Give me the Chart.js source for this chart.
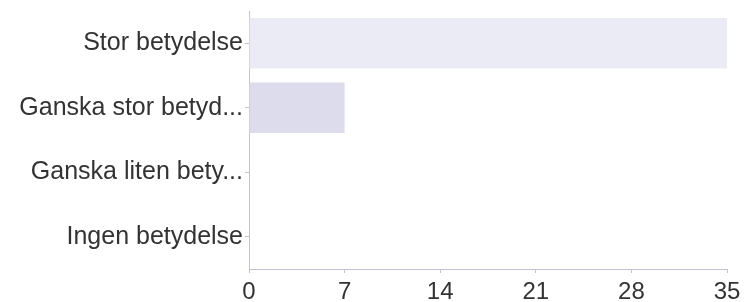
<!DOCTYPE html>
<html lang="sv">
<head>
<meta charset="UTF-8">
<title>Betydelse</title>
<script src="https://cdn.jsdelivr.net/npm/chart.js@4.4.0/dist/chart.umd.min.js"></script>
<style>
  html, body { margin: 0; padding: 0; background: #fff; }
  #wrap { width: 744px; height: 302px; }
</style>
</head>
<body>
<div id="wrap"><canvas id="chart" width="744" height="302"></canvas></div>
<script>
// Svarsalternativ och antal svar
const categories = ['Stor betydelse', 'Ganska stor betyd...', 'Ganska liten bety...', 'Ingen betydelse'];
const counts = [35, 7, 0, 0];
const xTicks = [0, 7, 14, 21, 28, 35];

const barColors = ['#ebebf5', '#dcdced', '#dcdced', '#dcdced'];
const axisColor = '#c0c2d6';
const textColor = '#333333';

new Chart(document.getElementById('chart'), {
  type: 'bar',
  data: {
    labels: categories,
    datasets: [{
      data: counts,
      backgroundColor: barColors,
      borderWidth: 0,
      barPercentage: 0.9,
      categoryPercentage: 0.87
    }]
  },
  options: {
    indexAxis: 'y',
    responsive: false,
    animation: false,
    layout: { padding: { top: 11, right: 17, left: 0, bottom: 0 } },
    plugins: { legend: { display: false }, tooltip: { enabled: false } },
    scales: {
      x: {
        min: 0,
        max: 35,
        afterBuildTicks: (scale) => { scale.ticks = xTicks.map(v => ({ value: v })); },
        // fasta mått så att diagramytan hamnar som i originalet
        afterFit: (scale) => { scale.height = 33; scale.paddingLeft = 0; scale.paddingRight = 0; },
        grid: { drawOnChartArea: false, drawTicks: true, tickLength: 4, color: axisColor },
        border: { color: axisColor, width: 1 },
        ticks: { color: textColor, padding: 5, font: { family: 'Liberation Sans', size: 24 } }
      },
      y: {
        afterFit: (scale) => { scale.width = 249; scale.paddingTop = 0; scale.paddingBottom = 0; },
        grid: { drawOnChartArea: false, drawTicks: true, tickLength: 4, color: axisColor, offset: false },
        border: { color: axisColor, width: 1 },
        ticks: { color: textColor, padding: 2, font: { family: 'Liberation Sans', size: 25 } }
      }
    }
  }
});
</script>
</body>
</html>
